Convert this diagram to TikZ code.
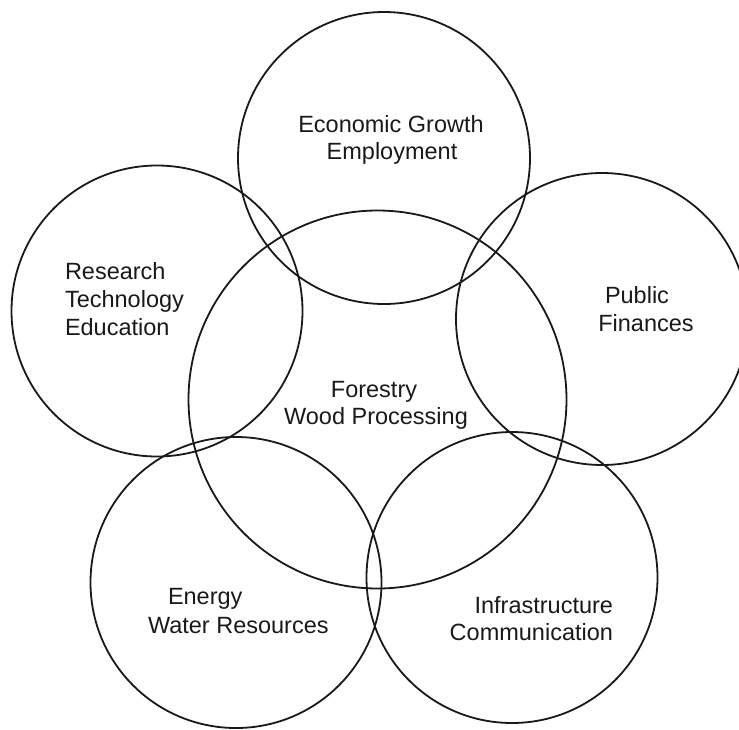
\documentclass[tikz,border=0pt]{standalone}
\usepackage{fontspec}
\setmainfont{Liberation Sans}
\begin{document}
\begin{tikzpicture}[x=1pt, y=-1pt,
  ring/.style={draw=black!90, line width=1.8pt, circle, inner sep=0pt, outer sep=0pt, minimum size=#1},
  lbl/.style={inner sep=0pt, outer sep=0pt, font=\fontsize{23.5}{28}\selectfont, text=black!90}]
  \useasboundingbox (0,0) rectangle (739,729);
  % overlapping fields around the central one
  \node[ring=292pt] (econ)  at (384,158)   {};
  \node[ring=291pt] (rte)   at (157,311)   {};
  \node[ring=292pt] (pub)   at (602,319)   {};
  \node[ring=378pt] (forest) at (377.5,399.5) {};
  \node[ring=291pt] (energy) at (236,582.5) {};
  \node[ring=291pt] (infra)  at (512,577.5) {};
  % labels
  \node[lbl, anchor=base] (econA) at (391,132) {Economic Growth};
  \node[lbl, anchor=base] (econB) at (392,159) {Employment};
  \node[lbl, anchor=base west] (rteA) at (65,279) {Research};
  \node[lbl, anchor=base west] (rteB) at (65,307) {Technology};
  \node[lbl, anchor=base west] (rteC) at (65,335) {Education};
  \node[lbl, anchor=base] (pubA) at (637,303) {Public};
  \node[lbl, anchor=base] (pubB) at (646,331) {Finances};
  \node[lbl, anchor=base] (forA) at (374,397) {Forestry};
  \node[lbl, anchor=base] (forB) at (376,424) {Wood Processing};
  \node[lbl, anchor=base west] (enA) at (168,604) {Energy};
  \node[lbl, anchor=base west] (enB) at (148,633) {Water Resources};
  \node[lbl, anchor=base east] (infA) at (613,613) {Infrastructure};
  \node[lbl, anchor=base east] (infB) at (613,640) {Communication};
\end{tikzpicture}
\end{document}
